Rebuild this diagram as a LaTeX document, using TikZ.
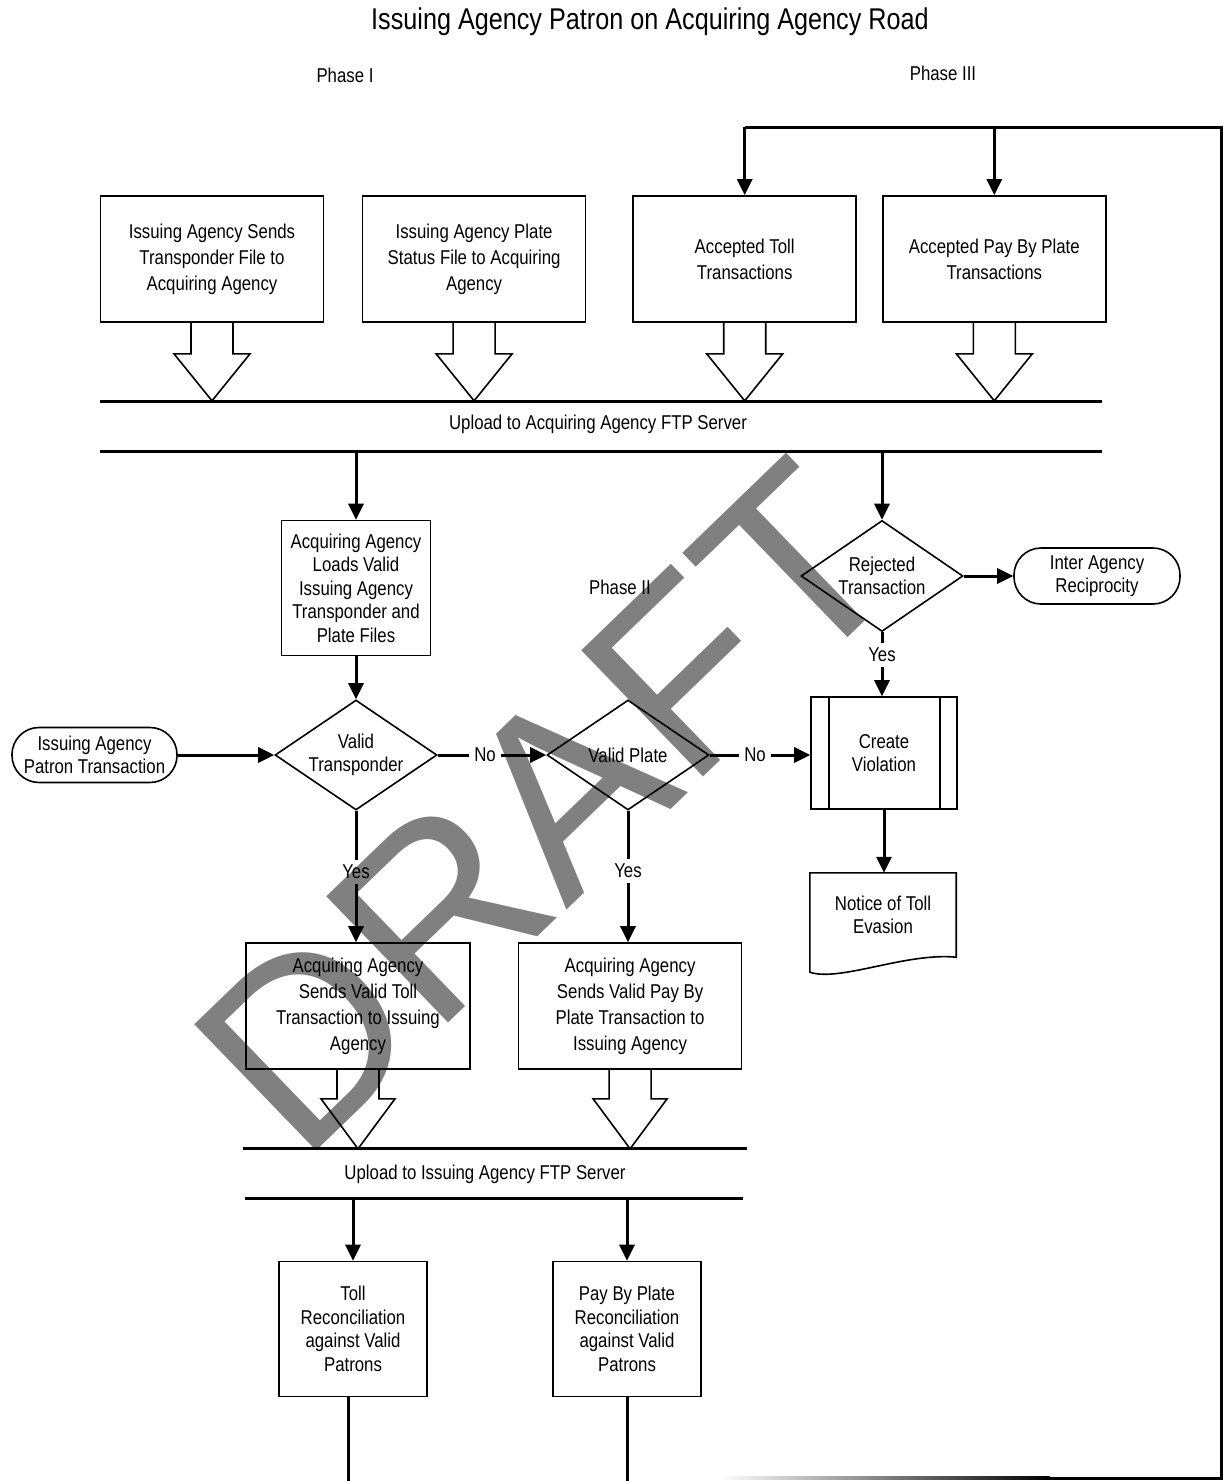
\documentclass[tikz,border=0pt]{standalone}
\usepackage{fontspec}
\setmainfont{Liberation Sans}[FakeStretch=0.84]
\newfontfamily\wmfont{Liberation Sans}
\usepackage{tikz}
\usetikzlibrary{shapes.geometric}
\usetikzlibrary{positioning}
\usetikzlibrary{arrows.meta}

\begin{document}
\begin{tikzpicture}[x=1pt, y=-1pt,
        every node/.style = {
        font=\fontsize{20}{26}\selectfont, align=center, inner sep=0pt
        },
        tight/.style={font=\fontsize{20}{23.5}\selectfont},
        proc/.style={draw, line width=1.6pt, minimum width=223pt, minimum height=126pt},
        decision/.style={draw, diamond, aspect=1.47, line width=1.6pt, minimum width=162pt, minimum height=110pt, tight},
        term/.style={draw, rounded corners=27pt, line width=1.6pt, minimum width=165pt, minimum height=55pt, tight},
        answer/.style={inner sep=5pt},
        line/.style={line width=3pt},
        flow/.style={line width=3pt, -{Triangle[length=16pt, width=15pt]}},
        hollow/.style={line width=1.6pt},
        watermark/.style={font=\wmfont\fontsize{255}{255}\selectfont, text=black!50, rotate=44, anchor=base west}
        ]
    \useasboundingbox (0,0) rectangle (1229,1481);

    % watermark, behind everything
    \node[watermark] (draft) at (301,1166) {DRAFT};

    \node[font=\fontsize{30}{34}\selectfont] (title) at (650,22) {Issuing Agency Patron on Acquiring Agency Road};
    \node (phase1) at (345,75) {Phase I};
    \node (phase3) at (943,73) {Phase III};
    \node (phase2) at (620,587) {Phase II};

    % files and accepted transactions
    \node[proc] (isend) at (212,259) {Issuing Agency Sends\\Transponder File to\\Acquiring Agency};
    \node[proc, right=37.5pt of isend] (pstatus) {Issuing Agency Plate\\Status File to Acquiring\\Agency};
    \node[proc, right=46pt of pstatus] (acctoll) {Accepted Toll\\Transactions};
    \node[proc, right=25pt of acctoll] (accpbp) {Accepted Pay By Plate\\Transactions};
    \foreach \b in {isend,pstatus,acctoll,accpbp}
        \draw[hollow] ([xshift=-21pt]\b.south) -- ++(0,31) -- ++(-17,0) -- ++(38,47) -- ++(38,-47) -- ++(-17,0) -- ++(0,-31);

    % acquiring agency ftp server
    \coordinate (ftpa-nw) at (100,401);
    \coordinate (ftpa-ne) at (1102,401);
    \coordinate (ftpa-sw) at (100,451);
    \coordinate (ftpa-se) at (1102,451);
    \draw[line] (ftpa-nw) -- (ftpa-ne);
    \draw[line] (ftpa-sw) -- (ftpa-se);
    \node (ftpa) at (598,424) {Upload to Acquiring Agency FTP Server};

    % checks
    \node[proc, tight, minimum width=149pt, minimum height=135pt] (loads) at (356,588) {Acquiring Agency\\Loads Valid\\Issuing Agency\\Transponder and\\Plate Files};
    \node[decision] (vtrans) at (356,755) {Valid\\Transponder};
    \node[term] (patron) at (94.5,755) {Issuing Agency\\Patron Transaction};
    \node[decision] (vplate) at (628,755) {Valid Plate};
    \node[answer] (no1) at (485,755) {No};
    \node[answer] (no2) at (755,755) {No};
    \node[answer] (yes1) at (356,872) {Yes};
    \node[answer] (yes2) at (628,871) {Yes};

    % rejected and violations
    \node[decision, minimum height=111pt] (reject) at (882,576) {Rejected\\Transaction};
    \node[term, minimum width=166pt, minimum height=56pt] (inter) at (1097,576) {Inter Agency\\Reciprocity};
    \node[answer] (yes3) at (882,655) {Yes};
    \node[proc, tight, minimum width=146pt, minimum height=112pt] (violation) at (884,753) {Create\\Violation};
    \draw[hollow] ([xshift=19pt]violation.north west) -- ([xshift=19pt]violation.south west);
    \draw[hollow] ([xshift=-18pt]violation.north east) -- ([xshift=-18pt]violation.south east);
    \node[tight, minimum width=146pt, minimum height=84pt] (notice) at (883,915) {Notice of Toll\\Evasion};
    \draw[hollow] ([yshift=-15pt]notice.south west) -- (notice.north west) -- (notice.north east) -- (notice.south east)
        .. controls +(-50,-5) and +(30,10) .. cycle;

    % sends to issuing agency
    \node[proc, minimum width=224pt] (tollsend) at (358,1006) {Acquiring Agency\\Sends Valid Toll\\Transaction to Issuing\\Agency};
    \node[proc, right=47pt of tollsend] (pbpsend) {Acquiring Agency\\Sends Valid Pay By\\Plate Transaction to\\Issuing Agency};
    \foreach \b in {tollsend,pbpsend}
        \draw[hollow] ([xshift=-21pt]\b.south) -- ++(0,29) -- ++(-16,0) -- ++(37,50) -- ++(37,-50) -- ++(-16,0) -- ++(0,-29);

    % issuing agency ftp server
    \coordinate (ftpi-nw) at (243,1148);
    \coordinate (ftpi-ne) at (747,1148);
    \coordinate (ftpi-sw) at (245,1198);
    \coordinate (ftpi-se) at (743,1198);
    \draw[line] (ftpi-nw) -- (ftpi-ne);
    \draw[line] (ftpi-sw) -- (ftpi-se);
    \node (ftpi) at (485,1174) {Upload to Issuing Agency FTP Server};

    \node[proc, tight, minimum width=148pt, minimum height=135pt] (tollrec) at (353,1329) {Toll\\Reconciliation\\against Valid\\Patrons};
    \node[proc, tight, minimum width=148pt, minimum height=135pt] (pbprec) at (627,1329) {Pay By Plate\\Reconciliation\\against Valid\\Patrons};

    % connectors
    \draw[flow] (vtrans.north |- ftpa-sw) -- (loads.north);
    \draw[flow] (loads) -- (vtrans);
    \draw[flow] (patron) -- (vtrans);
    \draw[line] (vtrans) -- (no1);
    \draw[flow] (no1) -- (vplate);
    \draw[line] (vplate) -- (no2);
    \draw[flow] (no2) -- (no2 -| violation.west);
    \draw[line] (vtrans) -- (yes1);
    \draw[flow] (yes1) -- (yes1 |- tollsend.north);
    \draw[line] (vplate) -- (yes2);
    \draw[flow] (yes2) -- (yes2 |- pbpsend.north);
    \draw[flow] (reject.north |- ftpa-sw) -- (reject.north);
    \draw[flow] (reject) -- (inter);
    \draw[line] (reject) -- (yes3);
    \draw[flow] (yes3) -- (yes3 |- violation.north);
    \draw[flow] (violation.south) -- (violation.south |- notice.north);
    \draw[flow] (tollrec.north |- ftpi-sw) -- (tollrec.north);
    \draw[flow] (pbprec.north |- ftpi-sw) -- (pbprec.north);

    % return loop
    \coordinate (bottom) at (0,1481);
    \coordinate (fade-w) at (720,1478);
    \coordinate (loop-w) at (1050,1478);
    \coordinate (loop-s) at (1221,1478);
    \coordinate (loop-n) at (1221,127);
    \draw[line] ([xshift=-5pt]tollrec.south) -- ([xshift=-5pt]tollrec.south |- bottom);
    \draw[line] (pbprec.south) -- (pbprec.south |- bottom);
    \shade[left color=white, right color=black] ([yshift=1.5pt]fade-w) rectangle ([yshift=-1.5pt]loop-w);
    \draw[line] (loop-w) -- (loop-s) -- (loop-n) -- (acctoll.north |- loop-n);
    \draw[flow] (acctoll.north |- loop-n) -- (acctoll.north);
    \draw[flow] (accpbp.north |- loop-n) -- (accpbp.north);
\end{tikzpicture}
\end{document}
